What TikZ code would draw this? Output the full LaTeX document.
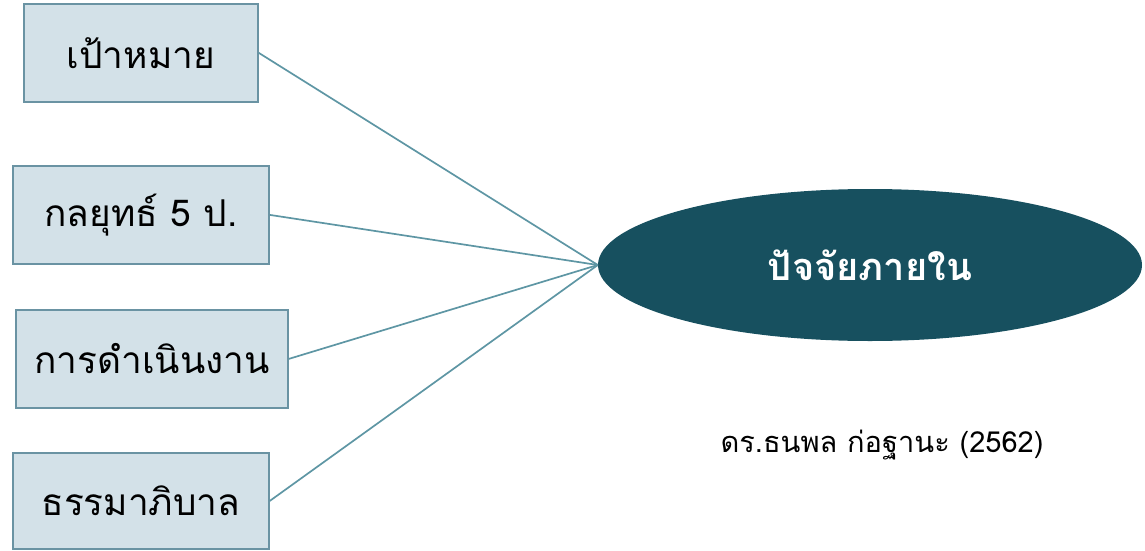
\documentclass[tikz,border=0pt]{standalone}
\usepackage{fontspec}
\usetikzlibrary{shapes.geometric}
\newfontfamily\thaifont[Script=Thai]{Loma}
\definecolor{boxfill}{HTML}{D3E1E8}
\definecolor{boxline}{HTML}{6A93A3}
\definecolor{linkcol}{HTML}{5E96A4}
\definecolor{ellfill}{HTML}{17505F}
\tikzset{
  itembox/.style={draw=boxline, line width=1.8pt, fill=boxfill, anchor=north west, inner sep=0pt,
    font=\thaifont\fontsize{37}{40}\selectfont, text=black},
  link/.style={draw=linkcol, line width=1.7pt},
}
\begin{document}
\begin{tikzpicture}[x=1pt,y=-1pt]
\useasboundingbox (0,0) rectangle (1145,551);
\node[itembox, minimum width=234pt, minimum height=98pt] (b1) at (23,3) {เป้าหมาย};
\node[itembox, minimum width=256pt, minimum height=98pt] (b2) at (12,165) {กลยุทธ์ 5 ป.};
\node[itembox, minimum width=272pt, minimum height=98pt] (b3) at (15,309) {การดำเนินงาน};
\node[itembox, minimum width=256pt, minimum height=96pt] (b4) at (12,452) {ธรรมาภิบาล};
\node[ellipse, fill=ellfill, minimum width=544pt, minimum height=152pt, inner sep=0pt,
  text=white, font=\thaifont\bfseries\fontsize{38}{40}\selectfont] (e) at (870,265) {ปัจจัยภายใน};
\draw[link] (b1.east) -- (e.west);
\draw[link] (b2.east) -- (e.west);
\draw[link] (b3.east) -- (e.west);
\draw[link] (b4.east) -- (e.west);
\node[font=\thaifont\fontsize{29}{32}\selectfont, text=black] (cap) at (882,445) {ดร.ธนพล ก่อฐานะ (2562)};
\end{tikzpicture}
\end{document}
